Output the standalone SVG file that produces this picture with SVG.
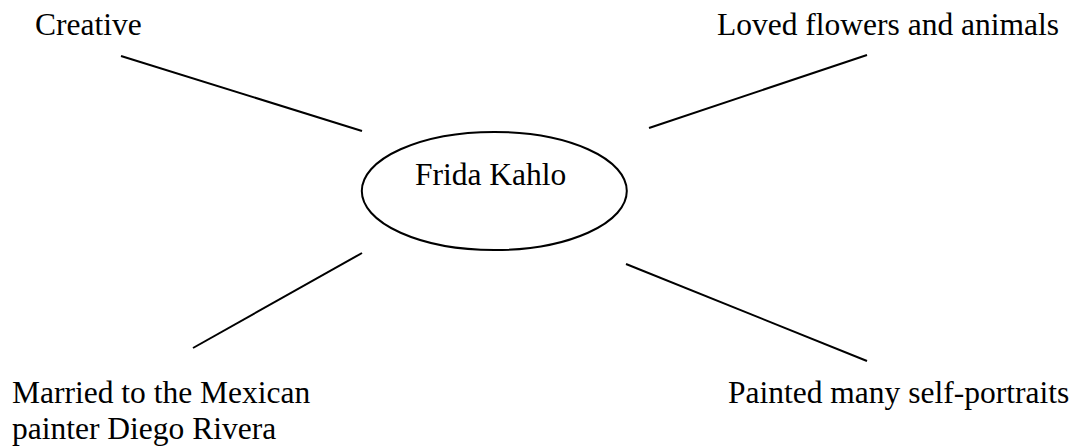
<svg xmlns="http://www.w3.org/2000/svg" width="1080" height="446" viewBox="0 0 1080 446">
<style>
text { font-family: "Liberation Serif", "Times New Roman", serif; font-size: 31.5px; fill: #000; }
.ln { stroke: #000; stroke-width: 2; fill: none; }
</style>
<rect width="1080" height="446" fill="#fff"/>
<g id="connectors">
<line class="ln" x1="121" y1="56" x2="362" y2="131"/>
<line class="ln" x1="649" y1="128" x2="867" y2="55"/>
<line class="ln" x1="193" y1="348" x2="362" y2="253"/>
<line class="ln" x1="626" y1="264" x2="867" y2="361"/>
</g>
<g id="center">
<ellipse class="ln" cx="494.3" cy="191" rx="132.5" ry="59"/>
<text x="415" y="185">Frida Kahlo</text>
</g>
<g id="creative"><text x="35" y="35">Creative</text></g>
<g id="loved"><text x="717" y="35">Loved flowers and animals</text></g>
<g id="married"><text x="12" y="403">Married to the Mexican</text><text x="12" y="438.5">painter Diego Rivera</text></g>
<g id="painted"><text x="728" y="403">Painted many self-portraits</text></g>
</svg>
